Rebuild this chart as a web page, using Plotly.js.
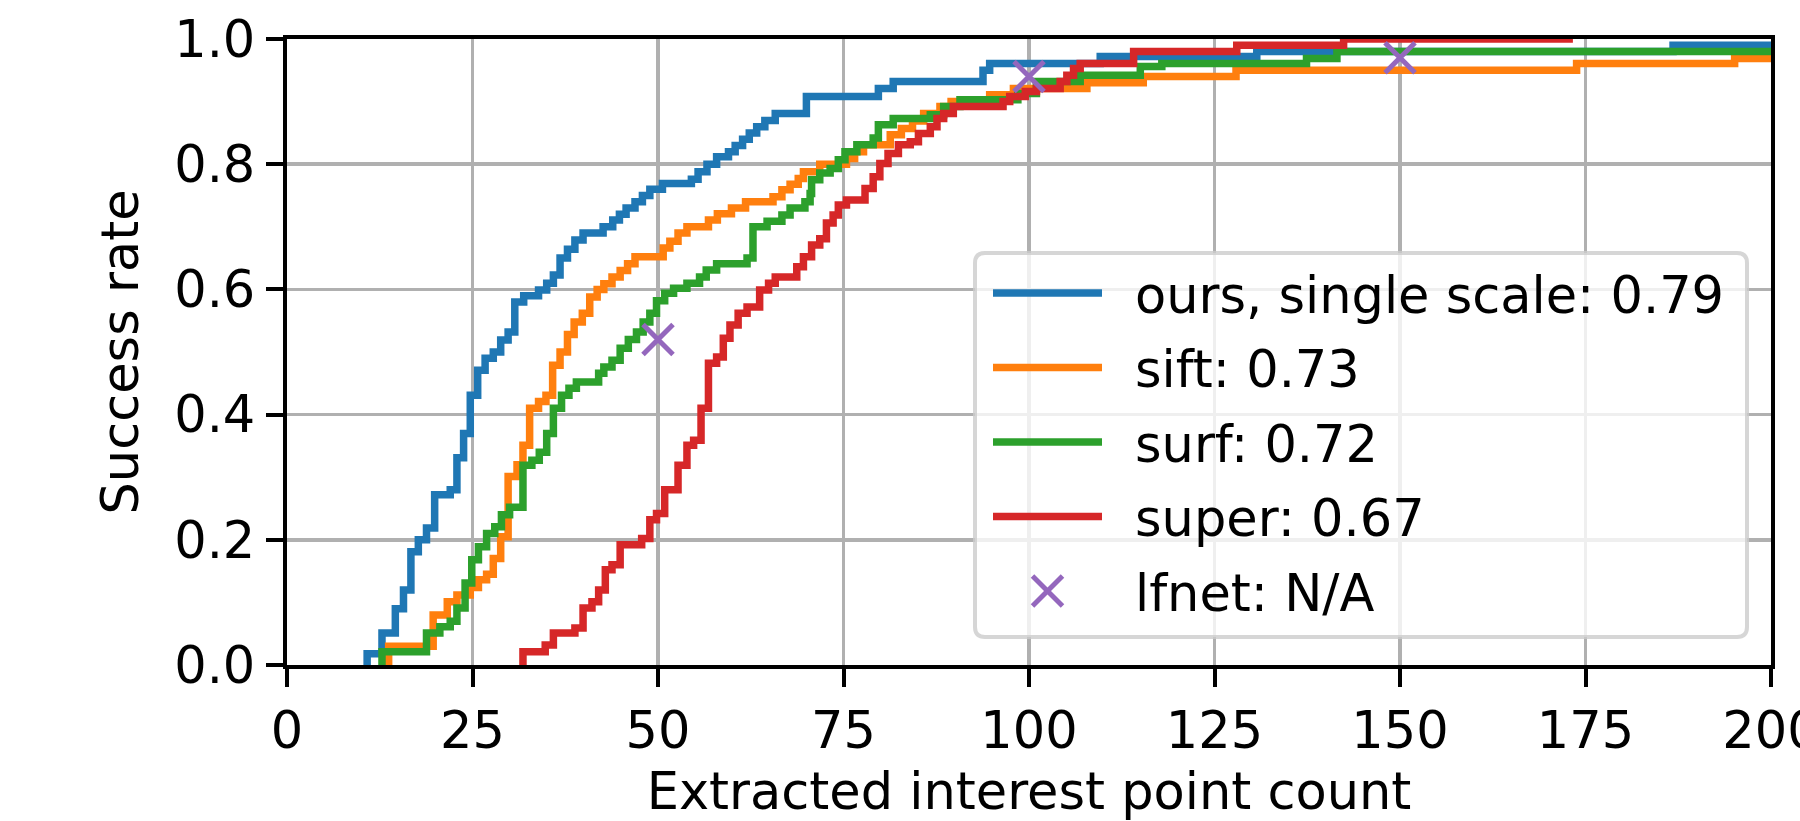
<!DOCTYPE html>
<html>
<head>
<meta charset="utf-8">
<script src="https://cdn.plot.ly/plotly-3.0.1.min.js"></script>
<style>
  html, body { margin: 0; padding: 0; background: #ffffff; }
  #chart { width: 1800px; height: 821px; }
</style>
</head>
<body>
<div id="chart"></div>
<script>
// ---- data (x = interest point count, y = success rate) ----
const oursX  = [10.8, 10.8, 12.8, 14.6, 15.7, 16.7, 17.7, 18.8, 19.9, 22.0, 22.9, 23.8, 24.7, 25.7, 26.7, 27.8, 28.8, 29.8, 30.7, 31.9, 33.9, 35.0, 35.9, 36.8, 37.8, 38.8, 39.9, 42.6, 43.9, 44.8, 45.7, 46.9, 47.9, 48.9, 50.6, 54.5, 55.4, 56.6, 57.9, 59.5, 60.4, 61.4, 62.3, 63.3, 64.4, 65.8, 70.0, 79.7, 81.7, 93.8, 94.7, 109.6, 130.7, 186.8, 200];
const oursY  = [0.0, 0.018, 0.051, 0.09, 0.12, 0.181, 0.2, 0.219, 0.272, 0.28, 0.331, 0.37, 0.431, 0.471, 0.49, 0.5, 0.519, 0.532, 0.58, 0.59, 0.599, 0.61, 0.623, 0.65, 0.664, 0.679, 0.69, 0.70, 0.711, 0.72, 0.73, 0.74, 0.75, 0.76, 0.769, 0.776, 0.788, 0.80, 0.812, 0.82, 0.83, 0.84, 0.85, 0.86, 0.87, 0.881, 0.908, 0.921, 0.932, 0.95, 0.961, 0.972, 0.98, 0.99, 0.99];

const siftX  = [13.7, 13.7, 19.7, 21.6, 22.9, 24.7, 25.8, 26.9, 27.8, 28.8, 29.8, 31.0, 31.8, 32.7, 33.9, 34.9, 35.8, 36.8, 37.8, 38.7, 39.8, 40.8, 41.8, 42.7, 43.8, 44.9, 45.9, 46.9, 50.7, 51.6, 52.7, 53.9, 56.8, 58.0, 59.9, 61.8, 65.5, 66.7, 67.8, 68.9, 69.6, 71.8, 75.4, 76.5, 77.7, 81.3, 82.8, 84.3, 85.8, 88.0, 89.5, 94.7, 97.9, 107.8, 115.4, 127.9, 173.8, 195.1, 200];
const siftY  = [0.0, 0.03, 0.08, 0.101, 0.112, 0.124, 0.136, 0.145, 0.17, 0.205, 0.301, 0.32, 0.351, 0.41, 0.421, 0.431, 0.479, 0.5, 0.528, 0.548, 0.562, 0.588, 0.6, 0.609, 0.62, 0.63, 0.641, 0.652, 0.666, 0.677, 0.69, 0.70, 0.711, 0.721, 0.73, 0.74, 0.748, 0.759, 0.768, 0.777, 0.788, 0.80, 0.809, 0.82, 0.831, 0.847, 0.857, 0.869, 0.881, 0.892, 0.90, 0.911, 0.921, 0.93, 0.94, 0.95, 0.961, 0.969, 0.969];

const surfX  = [12.8, 12.8, 18.8, 20.6, 22.0, 22.9, 24.0, 24.9, 25.8, 26.9, 28.0, 28.9, 30.0, 31.8, 33.0, 34.0, 35.0, 35.9, 37.0, 38.0, 39.0, 42.0, 42.7, 43.8, 44.9, 46.0, 47.1, 48.0, 48.9, 49.8, 50.9, 52.1, 53.9, 55.6, 56.5, 57.9, 62.0, 62.8, 64.7, 66.7, 67.8, 69.8, 70.5, 70.7, 71.8, 73.2, 74.3, 75.2, 76.8, 79.0, 79.7, 81.7, 86.7, 88.5, 90.7, 98.5, 101.0, 106.9, 115.0, 117.9, 137.4, 141.5, 200];
const surfY  = [0.0, 0.021, 0.051, 0.061, 0.07, 0.091, 0.131, 0.168, 0.189, 0.21, 0.221, 0.24, 0.252, 0.319, 0.327, 0.34, 0.37, 0.41, 0.431, 0.442, 0.452, 0.466, 0.476, 0.487, 0.506, 0.52, 0.532, 0.548, 0.562, 0.582, 0.594, 0.602, 0.61, 0.62, 0.631, 0.641, 0.65, 0.70, 0.709, 0.719, 0.73, 0.74, 0.753, 0.775, 0.786, 0.793, 0.807, 0.82, 0.831, 0.842, 0.863, 0.873, 0.879, 0.892, 0.903, 0.913, 0.932, 0.942, 0.956, 0.961, 0.969, 0.98, 0.98];

const superX = [31.8, 31.8, 34.8, 35.9, 38.8, 39.9, 41.1, 42.0, 42.9, 43.8, 44.9, 47.8, 48.9, 49.8, 50.9, 52.7, 53.9, 54.8, 55.8, 56.8, 57.9, 58.8, 59.7, 60.8, 62.0, 63.7, 64.9, 65.8, 68.7, 69.6, 70.7, 71.8, 72.7, 73.6, 74.3, 75.4, 77.9, 79.0, 79.9, 81.0, 82.4, 84.0, 85.1, 86.7, 87.6, 88.5, 89.8, 96.5, 97.4, 99.5, 101.0, 104.2, 105.1, 106.0, 106.9, 114.1, 128.0, 142.4, 173.3];
const superY = [0.0, 0.021, 0.032, 0.051, 0.059, 0.091, 0.101, 0.12, 0.152, 0.16, 0.192, 0.202, 0.232, 0.242, 0.28, 0.319, 0.351, 0.359, 0.41, 0.482, 0.492, 0.522, 0.543, 0.562, 0.572, 0.599, 0.61, 0.62, 0.636, 0.652, 0.671, 0.681, 0.706, 0.719, 0.735, 0.743, 0.761, 0.78, 0.801, 0.817, 0.831, 0.836, 0.849, 0.86, 0.873, 0.881, 0.892, 0.90, 0.908, 0.916, 0.921, 0.932, 0.942, 0.953, 0.961, 0.98, 0.99, 1.0, 1.0];

const lfnetX = [50, 100, 150];
const lfnetY = [0.52, 0.94, 0.97];

const seriesNames = ['ours, single scale: 0.79', 'sift: 0.73', 'surf: 0.72', 'super: 0.67', 'lfnet: N/A'];
const xTicks = [0, 25, 50, 75, 100, 125, 150, 175, 200];
const yTicks = [0.0, 0.2, 0.4, 0.6, 0.8, 1.0];
const yTickText = ['0.0', '0.2', '0.4', '0.6', '0.8', '1.0'];

// ---- styling ----
const colors = ['#1f77b4', '#ff7f0e', '#2ca02c', '#d62728', '#9467bd'];
const LW = 7.5;
const FONT = 'DejaVu Sans, Liberation Sans, sans-serif';
const FS = 51;

// plot area in pixels
const M = { l: 287, r: 29, t: 39, b: 156 };
const PW = 1800 - M.l - M.r, PH = 821 - M.t - M.b;
const PX = p => (p - M.l) / PW;        // pixel x -> paper x
const PY = p => (821 - M.b - p) / PH;  // pixel y -> paper y

function stepTrace(x, y, name, color) {
  return { x: x, y: y, type: 'scatter', mode: 'lines', name: name, showlegend: false,
           line: { color: color, width: LW, shape: 'hv' }, hoverinfo: 'skip', cliponaxis: true };
}

const traces = [
  stepTrace(oursX, oursY, seriesNames[0], colors[0]),
  stepTrace(siftX, siftY, seriesNames[1], colors[1]),
  stepTrace(surfX, surfY, seriesNames[2], colors[2]),
  stepTrace(superX, superY, seriesNames[3], colors[3]),
  { x: lfnetX, y: lfnetY, type: 'scatter', mode: 'markers', name: seriesNames[4], showlegend: false,
    marker: { symbol: 'x-thin', size: 30, color: colors[4], line: { color: colors[4], width: 5 } },
    hoverinfo: 'skip' }
];

// ---- legend (matplotlib style box, drawn as shapes + text) ----
const LEG = { x0: 975, x1: 1747, y0: 253, y1: 637, r: 10 };
const rowY = [293, 367.5, 442, 516.5, 591];
const handleX0 = 993, handleX1 = 1102, textX = 1134;

function roundedBox(b) {
  const f = (x, y) => PX(x) + ',' + PY(y);
  return 'M' + f(b.x0 + b.r, b.y0) + ' L' + f(b.x1 - b.r, b.y0) +
         ' Q' + f(b.x1, b.y0) + ' ' + f(b.x1, b.y0 + b.r) +
         ' L' + f(b.x1, b.y1 - b.r) +
         ' Q' + f(b.x1, b.y1) + ' ' + f(b.x1 - b.r, b.y1) +
         ' L' + f(b.x0 + b.r, b.y1) +
         ' Q' + f(b.x0, b.y1) + ' ' + f(b.x0, b.y1 - b.r) +
         ' L' + f(b.x0, b.y0 + b.r) +
         ' Q' + f(b.x0, b.y0) + ' ' + f(b.x0 + b.r, b.y0) + ' Z';
}

const shapes = [{
  type: 'path', xref: 'paper', yref: 'paper', path: roundedBox(LEG),
  fillcolor: 'rgba(255,255,255,0.8)', line: { color: 'rgba(204,204,204,0.8)', width: 4 }, layer: 'above'
}];
for (let i = 0; i < 4; i++) {
  shapes.push({ type: 'line', xref: 'paper', yref: 'paper',
    x0: PX(handleX0), x1: PX(handleX1), y0: PY(rowY[i]), y1: PY(rowY[i]),
    line: { color: colors[i], width: LW }, layer: 'above' });
}
const mx = (handleX0 + handleX1) / 2, my = rowY[4], ms = 15;
shapes.push({ type: 'line', xref: 'paper', yref: 'paper',
  x0: PX(mx - ms), x1: PX(mx + ms), y0: PY(my - ms), y1: PY(my + ms),
  line: { color: colors[4], width: 5 }, layer: 'above' });
shapes.push({ type: 'line', xref: 'paper', yref: 'paper',
  x0: PX(mx - ms), x1: PX(mx + ms), y0: PY(my + ms), y1: PY(my - ms),
  line: { color: colors[4], width: 5 }, layer: 'above' });

const annotations = seriesNames.map((t, i) => ({
  text: t, xref: 'paper', yref: 'paper', x: PX(textX), y: PY(rowY[i] + 2),
  xanchor: 'left', yanchor: 'middle', showarrow: false, borderpad: 0,
  font: { family: FONT, size: FS, color: '#000000' }
}));

const axisCommon = {
  ticks: 'outside', ticklen: 17.5, tickwidth: 4, tickcolor: '#000000',
  showline: true, linewidth: 4, linecolor: '#000000', mirror: true,
  showgrid: true, gridcolor: '#b0b0b0', gridwidth: 3.5, zeroline: false,
  ticklabeloverflow: 'allow',
  tickfont: { family: FONT, size: FS, color: '#000000' }
};

const layout = {
  width: 1800, height: 821,
  margin: { l: M.l, r: M.r, t: M.t, b: M.b, autoexpand: false },
  paper_bgcolor: '#ffffff', plot_bgcolor: '#ffffff',
  font: { family: FONT, size: FS, color: '#000000' },
  showlegend: false,
  xaxis: Object.assign({}, axisCommon, {
    range: [0, 200], tickmode: 'array', tickvals: xTicks, ticktext: xTicks.map(String),
    title: { text: 'Extracted interest point count', font: { family: FONT, size: FS, color: '#000000' }, standoff: 19 }
  }),
  yaxis: Object.assign({}, axisCommon, {
    range: [0, 1], tickmode: 'array', tickvals: yTicks, ticktext: yTickText,
    title: { text: 'Success rate', font: { family: FONT, size: FS, color: '#000000' }, standoff: 20 }
  }),
  shapes: shapes,
  annotations: annotations
};

Plotly.newPlot('chart', traces, layout, { displayModeBar: false, staticPlot: true });
</script>
</body>
</html>
